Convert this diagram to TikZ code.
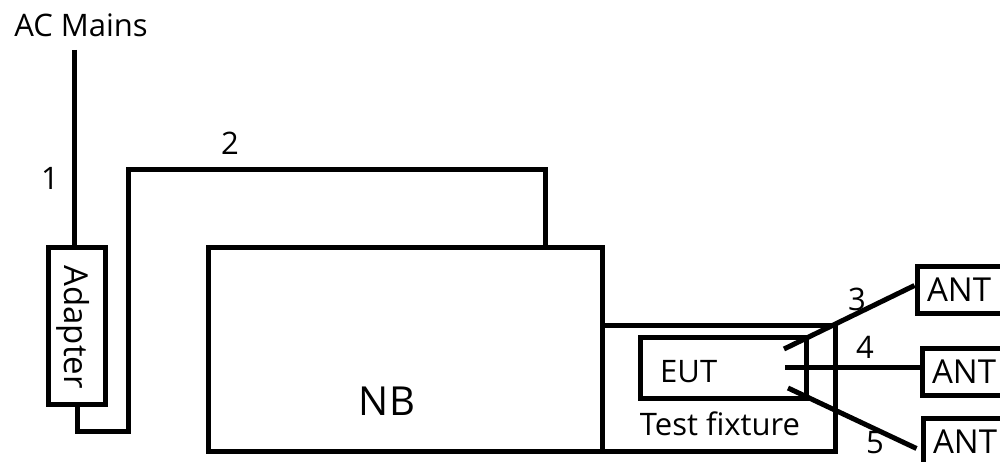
\documentclass[tikz,border=0pt]{standalone}
\usepackage{fontspec}
\setmainfont{Open Sans}
\begin{document}
\begin{tikzpicture}[x=1pt,y=-1pt,
  wire/.style={line width=5pt},
  box/.style={draw,line width=5pt,rectangle,inner sep=0pt},
  antbox/.style={draw,line width=5pt,rectangle,minimum width=100pt,minimum height=47pt,
     text width=80pt,inner xsep=10pt,inner ysep=0pt,align=left,font=\fontsize{33}{38}\selectfont},
  lbl/.style={font=\fontsize{31}{37}\selectfont,inner sep=0pt,anchor=base},
]
\useasboundingbox (0,0) rectangle (1000,462);
\clip (0,0) rectangle (1000,462);

% text labels
\node[lbl] (acmains) at (81,37) {AC Mains};
\node[lbl] (n1) at (50,190) {1};
\node[lbl] (n2) at (230,155) {2};
\node[lbl] (n3) at (857,310) {3};
\node[lbl] (n4) at (865,358) {4};
\node[lbl] (n5) at (875,453) {5};

% boxes
\node[box,minimum width=57pt,minimum height=157pt] (adapter) at (77,326) {};
\node[font=\fontsize{33}{38}\selectfont,rotate=-90,inner sep=0pt] (adaptertext) at (73,327) {Adapter};

\node[box,minimum width=394pt,minimum height=204pt] (nb) at (405.5,349.5) {};
\node[lbl,font=\fontsize{40}{46}\selectfont] (nbtext) at (387,415) {NB};

\node[box,minimum width=232.5pt,minimum height=126pt] (fixture) at (718.75,388.5) {};
\node[lbl] (fixturetext) at (720,435) {Test fixture};

\node[box,minimum width=166.5pt,minimum height=61pt] (eut) at (723.25,368) {};
\node[lbl,anchor=base west] (euttext) at (660,382) {EUT};

\node[antbox,anchor=north west] (ant1) at (914.5,263.5) {ANT};
\node[antbox,anchor=north west] (ant2) at (919.5,345.5) {ANT};
\node[antbox,anchor=north west] (ant3) at (920.5,415.5) {ANT};

% cable 1
\coordinate (acin) at (74.5,50);
\draw[wire] (acin) -- (acin |- adapter.north);

% cable 2
\coordinate (c2a) at (128,431);
\coordinate (c2b) at (128,169.5);
\coordinate (c2c) at (545.5,169.5);
\draw[wire] (adapter.south) |- (c2a) -- (c2b) -- (c2c) -- (c2c |- nb.north);

% antenna cables
\coordinate (p3) at (784,349);
\coordinate (p4) at (785,367);
\coordinate (p5) at (788,388);
\draw[wire] (p3) -- ([yshift=4pt]ant1.west);
\draw[wire] (p4) -- (p4 -| ant2.west);
\draw[wire] (p5) -- ([xshift=-4pt,yshift=-7pt]ant3.west);
\end{tikzpicture}
\end{document}
